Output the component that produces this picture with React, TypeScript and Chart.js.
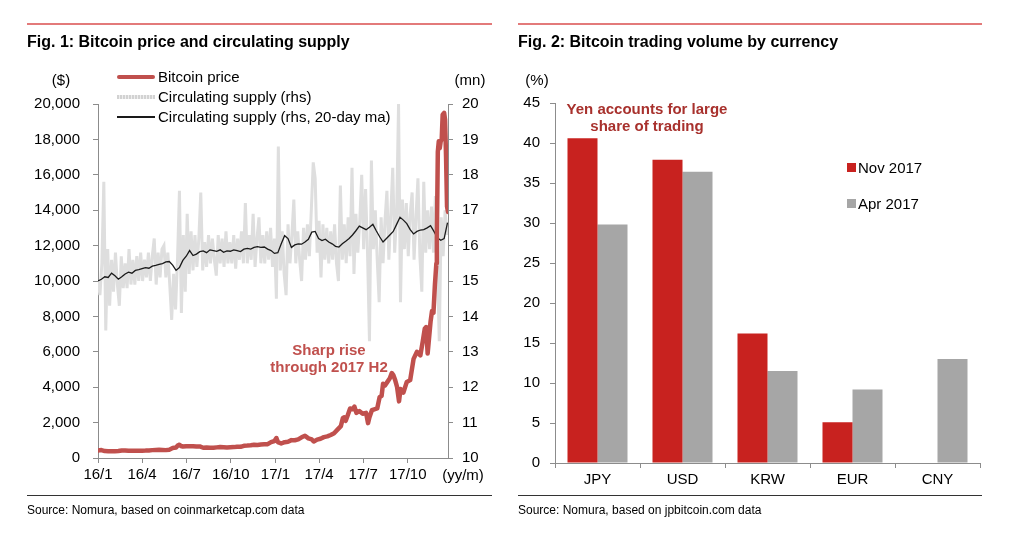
import React, { useEffect, useRef } from "react";
import { Chart, registerables } from "chart.js";

Chart.register(...registerables);

const FONT = "'Liberation Sans', Arial, Helvetica, sans-serif";

// ---------- Fig. 1 data ----------
const quarterDays = [0, 91, 182, 274, 366, 456, 547, 639];
const quarterLabels = ["16/1", "16/4", "16/7", "16/10", "17/1", "17/4", "17/7", "17/10"];
const LAST_DAY = 722;

// Circulating supply (rhs, mn), one reading every 4 days from 2016-01-01
const SUPPLY_STEP_DAYS = 4;
const supplyRaw = [
  15.0, 14.6, 15.5, 17.8, 13.6, 15.9, 14.3, 15.6, 14.7, 15.8,
  14.9, 14.3, 15.7, 14.8, 15.5, 14.8, 15.9, 14.9, 15.6, 14.9,
  15.7, 15.0, 15.8, 15.0, 15.6, 15.1, 15.8, 15.0, 15.7, 16.2,
  14.9, 15.8, 15.1, 15.9, 16.0, 15.1, 15.8, 14.9, 13.9, 15.2,
  14.2, 15.6, 17.55, 14.1, 16.3, 14.7, 16.9, 15.2, 16.4, 15.3,
  16.3, 15.4, 16.2, 17.5, 15.3, 16.1, 15.4, 16.3, 15.5, 16.2,
  15.6, 15.15, 16.3, 15.5, 16.2, 15.4, 16.4, 15.5, 16.1, 15.5,
  16.3, 15.35, 16.2, 15.6, 16.4, 15.5, 17.2, 15.5, 16.3, 15.6,
  16.9, 15.4, 16.2, 16.8, 15.5, 16.3, 15.5, 16.4, 15.6, 16.5,
  15.4, 16.2, 14.5, 18.8, 15.3, 16.4, 15.2, 14.6, 16.6, 15.5,
  16.3, 17.3, 15.5, 16.4, 15.6, 15.0, 16.5, 15.6, 16.6, 15.7,
  17.0, 18.35, 17.9, 15.8, 16.7, 15.1, 16.6, 15.6, 16.5, 15.5,
  16.4, 15.6, 16.6, 15.5, 15.0, 17.7, 15.6, 16.6, 15.5, 16.8,
  15.7, 18.2, 15.2, 16.9, 15.8, 16.7, 18.0, 15.9, 17.6, 15.8,
  13.3, 18.4, 15.9, 17.0, 15.6, 14.4, 16.8, 15.5, 16.7, 17.55,
  15.6, 16.9, 18.2, 15.8, 16.9, 20.0, 14.4, 17.3, 15.9, 17.2,
  15.7, 16.9, 17.5, 15.6, 16.8, 17.9, 15.7, 14.7, 17.8, 15.8,
  17.0, 15.9, 17.1, 15.8, 17.4, 15.5, 13.3, 16.8, 15.7, 17.0,
  16.3,
];

// Circulating supply, 20-day moving average (rhs, mn), weekly readings
const MA_STEP_DAYS = 7;
const supplyMA = [
  15.0, 15.05, 15.12, 15.1, 15.22, 15.15, 15.05, 15.12, 15.2, 15.25,
  15.22, 15.3, 15.32, 15.35, 15.38, 15.36, 15.42, 15.44, 15.47, 15.49,
  15.54, 15.55, 15.45, 15.3, 15.38, 15.58, 15.7, 15.86, 15.72, 15.76,
  15.83, 15.85, 15.8, 15.88, 15.86, 15.84, 15.88, 15.81, 15.85, 15.84,
  15.88, 15.86, 15.83, 15.9, 15.92, 15.9, 15.95, 15.97, 15.95, 15.96,
  15.9, 15.86, 15.78, 15.8, 16.05, 16.28, 16.2, 15.95, 16.02, 16.05,
  16.04, 16.1, 16.18, 16.38, 16.4, 16.2, 16.14, 16.18, 16.1, 16.05,
  15.98, 15.96, 16.05, 16.12, 16.2, 16.3, 16.42, 16.55, 16.5, 16.45,
  16.52, 16.6, 16.42, 16.25, 16.1, 16.2, 16.3, 16.4, 16.6, 16.8,
  16.72, 16.62, 16.45, 16.33, 16.4, 16.44, 16.45, 16.5, 16.56, 16.4,
  16.22, 16.15, 16.2, 16.65,
];

// Bitcoin price ($): [days since 2016-01-01, price]
const bitcoinPrice: [number, number][] = [
  [0, 430], [7, 450], [14, 390], [21, 385], [28, 380], [35, 385], [42, 390], [49, 420],
  [56, 430], [63, 410], [70, 415], [77, 410], [84, 415], [91, 415], [98, 420], [105, 430],
  [112, 445], [119, 455], [126, 460], [133, 455], [140, 445], [147, 470], [154, 560], [161, 590],
  [165, 720], [168, 750], [171, 680], [175, 650], [182, 670], [189, 660], [196, 665], [203, 655],
  [210, 655], [217, 580], [224, 590], [231, 575], [238, 575], [245, 600], [252, 620], [259, 610],
  [266, 600], [273, 610], [280, 615], [287, 640], [294, 630], [301, 690], [308, 700], [315, 715],
  [322, 745], [329, 740], [336, 760], [343, 770], [350, 780], [357, 900], [364, 960], [368, 1130],
  [371, 900], [378, 820], [385, 895], [392, 920], [399, 1010], [406, 1000], [413, 1050], [420, 1170],
  [427, 1260], [434, 1110], [441, 1050], [445, 930], [452, 1040], [459, 1090], [466, 1180], [473, 1220],
  [480, 1300], [487, 1400], [494, 1600], [501, 1800], [505, 2250], [508, 2300], [511, 2100], [515, 2400],
  [520, 2800], [525, 2750], [529, 2900], [533, 2550], [539, 2650], [546, 2500], [553, 2550], [557, 1970],
  [560, 2300], [565, 2700], [570, 2750], [576, 2800], [581, 3450], [585, 3500], [588, 4200], [592, 4100],
  [597, 4300], [602, 4500], [606, 4800], [609, 4700], [613, 4400], [617, 4000], [621, 3200], [624, 3900],
  [630, 3700], [637, 4300], [644, 4400], [651, 5600], [658, 6000], [665, 5800], [670, 6600], [674, 7300],
  [677, 7400], [680, 5900], [682, 6500], [686, 7700], [689, 8300], [692, 8200], [695, 9800], [698, 11000],
  [699, 12500], [701, 17300], [703, 17900], [705, 17500], [707, 17900], [709, 18000], [711, 19400], [714, 19500],
  [716, 19100], [718, 17000], [720, 14200], [722, 13900],
];

// ---------- Fig. 2 data ----------
const currencies = ["JPY", "USD", "KRW", "EUR", "CNY"];
const nov2017 = [40.6, 37.9, 16.2, 5.1, null];
const apr2017 = [29.8, 36.4, 11.5, 9.2, 13.0];

const AXIS = "#8c8c8c";
const RED_LINE = "#c0504d";
const BAR_RED = "#c8221f";
const BAR_GRAY = "#a6a6a6";
const tickFont = { family: FONT, size: 15 };

function leftConfig(): any {
  return {
    type: "line",
    data: {
      datasets: [
        {
          label: "Bitcoin price",
          data: bitcoinPrice.map(([x, y]) => ({ x, y })),
          yAxisID: "y",
          borderColor: RED_LINE,
          borderWidth: 4.5,
          pointRadius: 0,
          borderJoinStyle: "round",
          borderCapStyle: "round",
          order: 0,
        },
        {
          label: "Circulating supply (rhs, 20-day ma)",
          data: supplyMA.map((y, i) => ({ x: i * MA_STEP_DAYS, y })),
          yAxisID: "y2",
          borderColor: "#1a1a1a",
          borderWidth: 1.3,
          pointRadius: 0,
          order: 1,
        },
        {
          label: "Circulating supply (rhs)",
          data: supplyRaw.map((y, i) => ({ x: i * SUPPLY_STEP_DAYS, y })),
          yAxisID: "y2",
          borderColor: "#dedede",
          borderWidth: 3,
          pointRadius: 0,
          order: 2,
        },
      ],
    },
    options: {
      responsive: false,
      animation: false,
      devicePixelRatio: 1,
      layout: { padding: { top: 104, bottom: 41, left: 0, right: 0 } },
      plugins: { legend: { display: false }, tooltip: { enabled: false } },
      scales: {
        x: {
          type: "linear",
          min: 0,
          max: LAST_DAY,
          afterBuildTicks: (s: any) => {
            s.ticks = quarterDays.map((v) => ({ value: v }));
          },
          afterFit: (s: any) => {
            s.height = 40;
          },
          ticks: {
            autoSkip: false,
            maxRotation: 0,
            color: "#000",
            font: tickFont,
            padding: 3,
            callback: (_v: any, i: number) => quarterLabels[i],
          },
          grid: { drawOnChartArea: false, tickLength: 5, color: AXIS },
          border: { color: AXIS },
        },
        y: {
          position: "left",
          min: 0,
          max: 20000,
          afterFit: (s: any) => {
            s.width = 98;
          },
          ticks: {
            stepSize: 2000,
            color: "#000",
            font: tickFont,
            padding: 13,
            callback: (v: any) => Number(v).toLocaleString("en-US"),
          },
          grid: { drawOnChartArea: false, tickLength: 5, color: AXIS },
          border: { color: AXIS },
        },
        y2: {
          position: "right",
          min: 10,
          max: 20,
          afterFit: (s: any) => {
            s.width = 64;
          },
          ticks: { stepSize: 1, color: "#000", font: tickFont, padding: 9 },
          grid: { drawOnChartArea: false, tickLength: 5, color: AXIS },
          border: { color: AXIS },
        },
      },
    },
  };
}

function rightConfig(): any {
  return {
    type: "bar",
    data: {
      labels: currencies,
      datasets: [
        { label: "Nov 2017", data: nov2017, backgroundColor: BAR_RED, categoryPercentage: 0.706, barPercentage: 1 },
        { label: "Apr 2017", data: apr2017, backgroundColor: BAR_GRAY, categoryPercentage: 0.706, barPercentage: 1 },
      ],
    },
    options: {
      responsive: false,
      animation: false,
      devicePixelRatio: 1,
      layout: { padding: { top: 103, bottom: 36, left: 0, right: 44 } },
      plugins: { legend: { display: false }, tooltip: { enabled: false } },
      scales: {
        x: {
          afterFit: (s: any) => {
            s.height = 40;
          },
          ticks: { color: "#000", font: tickFont, padding: 3, maxRotation: 0 },
          grid: { drawOnChartArea: false, tickLength: 5, color: AXIS, offset: true },
          border: { color: AXIS },
        },
        y: {
          min: 0,
          max: 45,
          afterFit: (s: any) => {
            s.width = 43;
          },
          ticks: { stepSize: 5, color: "#000", font: tickFont, padding: 10 },
          grid: { drawOnChartArea: false, tickLength: 5, color: AXIS },
          border: { color: AXIS },
        },
      },
    },
  };
}

const abs = (s: React.CSSProperties): React.CSSProperties => ({
  position: "absolute",
  whiteSpace: "nowrap",
  fontFamily: FONT,
  ...s,
});

function Label(props: { x: number; y: number; size?: number; bold?: boolean; color?: string; center?: boolean; children: React.ReactNode }) {
  const size = props.size ?? 15;
  const lh = Math.round(size * 1.2);
  return (
    <div
      style={abs({
        left: props.x,
        top: props.y - lh / 2,
        fontSize: size,
        lineHeight: lh + "px",
        fontWeight: props.bold ? "bold" : "normal",
        color: props.color ?? "#000",
        transform: props.center ? "translateX(-50%)" : undefined,
        textAlign: props.center ? "center" : "left",
      })}
    >
      {props.children}
    </div>
  );
}

export default function App() {
  const leftRef = useRef<HTMLCanvasElement>(null);
  const rightRef = useRef<HTMLCanvasElement>(null);

  useEffect(() => {
    const c1 = new Chart(leftRef.current as HTMLCanvasElement, leftConfig());
    const c2 = new Chart(rightRef.current as HTMLCanvasElement, rightConfig());
    return () => {
      c1.destroy();
      c2.destroy();
    };
  }, []);

  return (
    <div
      style={{
        position: "absolute",
        left: 0,
        top: 0,
        width: 1024,
        height: 539,
        background: "#fff",
        overflow: "hidden",
        fontFamily: FONT,
        color: "#000",
      }}
    >
      <canvas ref={leftRef} width={512} height={539} style={{ position: "absolute", left: 0, top: 0, width: 512, height: 539 }} />
      <canvas ref={rightRef} width={512} height={539} style={{ position: "absolute", left: 512, top: 0, width: 512, height: 539 }} />

      {/* Frame lines */}
      <div style={abs({ left: 27, top: 23, width: 465, height: 2, background: "#e37a7a" })} />
      <div style={abs({ left: 518, top: 23, width: 464, height: 2, background: "#e37a7a" })} />
      <div style={abs({ left: 27, top: 495, width: 465, height: 1, background: "#333" })} />
      <div style={abs({ left: 518, top: 495, width: 464, height: 1, background: "#333" })} />

      {/* Titles */}
      <Label x={27} y={41} size={16} bold>Fig. 1: Bitcoin price and circulating supply</Label>
      <Label x={518} y={41} size={16} bold>Fig. 2: Bitcoin trading volume by currency</Label>

      {/* Sources */}
      <Label x={27} y={510} size={12}>Source: Nomura, based on coinmarketcap.com data</Label>
      <Label x={518} y={510} size={12}>Source: Nomura, based on jpbitcoin.com data</Label>

      {/* Fig 1 units */}
      <Label x={61} y={80} center>($)</Label>
      <Label x={470} y={80} center>(mn)</Label>
      <Label x={463} y={475} center>(yy/m)</Label>

      {/* Fig 1 legend */}
      <div style={abs({ left: 117, top: 75, width: 38, height: 4, borderRadius: 2, background: RED_LINE })} />
      <Label x={158} y={77}>Bitcoin price</Label>
      <div
        style={abs({
          left: 117,
          top: 95,
          width: 38,
          height: 4,
          background: "repeating-linear-gradient(90deg, #d2d2d2 0px, #d2d2d2 2px, #eeeeee 2px, #eeeeee 3px)",
        })}
      />
      <Label x={158} y={97}>Circulating supply (rhs)</Label>
      <div style={abs({ left: 117, top: 116, width: 38, height: 1.5, background: "#1a1a1a" })} />
      <Label x={158} y={117}>Circulating supply (rhs, 20-day ma)</Label>

      {/* Fig 1 annotation */}
      <Label x={329} y={350} bold center color={RED_LINE}>Sharp rise</Label>
      <Label x={329} y={367} bold center color={RED_LINE}>through 2017 H2</Label>

      {/* Fig 2 units & annotation */}
      <Label x={537} y={80} center>(%)</Label>
      <Label x={647} y={109} bold center color="#a8312d">Yen accounts for large</Label>
      <Label x={647} y={126} bold center color="#a8312d">share of trading</Label>

      {/* Fig 2 legend */}
      <div style={abs({ left: 847, top: 163, width: 9, height: 9, background: BAR_RED })} />
      <Label x={858} y={168}>Nov 2017</Label>
      <div style={abs({ left: 847, top: 199, width: 9, height: 9, background: BAR_GRAY })} />
      <Label x={858} y={204}>Apr 2017</Label>
    </div>
  );
}
